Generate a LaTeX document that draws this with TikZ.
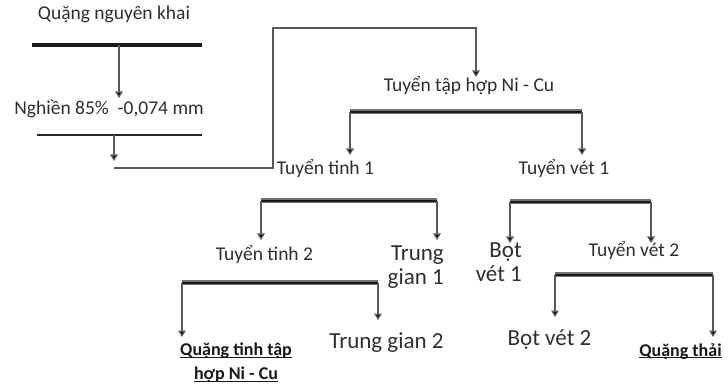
\documentclass[tikz,border=0pt]{standalone}
\usepackage{fontspec}
\setmainfont{Carlito}
\usetikzlibrary{arrows.meta}
% underline sitting just below the baseline, crossed by descenders
\newcommand\ulin[1]{\setbox0=\hbox{#1}\rlap{\rule[-2.4pt]{\wd0}{1.1pt}}\box0}
\begin{document}
\begin{tikzpicture}[x=1pt,y=-1pt,
  lbl/.style={inner sep=0pt, text=black!82, font=\fontsize{19.5}{23}\selectfont},
  big/.style={inner sep=0pt, text=black!82, font=\fontsize{23}{24}\selectfont},
  prod/.style={inner sep=0pt, text=black!90, font=\fontsize{18}{24}\selectfont\bfseries},
  flow/.style={draw=black!65, line width=1.3pt, -{Triangle[width=7.5pt,length=6.5pt,fill=black]}},
  bar/.style={draw=black!55, line width=5pt, postaction={draw=black!90, line width=2.4pt}},
  heavybar/.style={draw=black!90, line width=4pt},
  thinbar/.style={draw=black!85, line width=2pt}]
\useasboundingbox (0,0) rectangle (728,387);

% ---- labels ----
\node[lbl, anchor=base] (ore)   at (114,20)  {Quặng nguyên khai};
\node[lbl, anchor=base] (grind) at (109,115) {Nghiền 85\%\ \ -0,074 mm};
\node[lbl, anchor=base] (bulk)  at (469,92)  {Tuyển tập hợp Ni - Cu};
\node[lbl, anchor=base] (cl1)   at (325.5,175) {Tuyển tinh 1};
\node[lbl, anchor=base] (sc1)   at (564,175) {Tuyển vét 1};
\node[lbl, anchor=base] (cl2)   at (264.5,261) {Tuyển tinh 2};
\node[lbl, anchor=base] (sc2)   at (634,257) {Tuyển vét 2};
\node[big, anchor=north east, align=right] (mid1) at (444,246) {Trung\\gian 1};
\node[big, anchor=base] (mid2)  at (386.5,348) {Trung gian 2};
\node[big, anchor=north east, align=right] (fr1) at (522,243) {Bọt\\vét 1};
\node[big, anchor=base] (fr2)   at (549.5,345) {Bọt vét 2};
\node[prod, anchor=north, align=center] (conc) at (236,343) {\ulin{Quặng tinh tập}\\\ulin{hợp Ni - Cu}};
\node[prod, anchor=base] (tail) at (680.5,356) {\ulin{Quặng thải}};

% ---- bars (split points) ----
\coordinate (oreL) at (32,45);   \coordinate (oreR) at (202,45);
\coordinate (grL)  at (37,135);  \coordinate (grR)  at (202,135);
\coordinate (buL)  at (350,112); \coordinate (buR)  at (582,112);
\coordinate (c1L)  at (261,201); \coordinate (c1R)  at (437,201);
\coordinate (s1L)  at (510,202); \coordinate (s1R)  at (651,202);
\coordinate (c2L)  at (182,283); \coordinate (c2R)  at (378,283);
\coordinate (s2L)  at (555,275); \coordinate (s2R)  at (713,275);

\draw[heavybar] (oreL) -- (oreR);
\draw[thinbar]  (grL) -- (grR);
\draw[bar] (buL) -- (buR);
\draw[bar] (c1L) -- (c1R);
\draw[bar] (s1L) -- (s1R);
\draw[bar] (c2L) -- (c2R);
\draw[bar] (s2L) -- (s2R);

% ---- arrow tips ----
\coordinate (oreOut)  at (119,45);   \coordinate (grIn)   at (119,98);
\coordinate (grOut)   at (114,135);  \coordinate (grTip)  at (114,161);
\coordinate (feed)    at (114,168);  \coordinate (riser)  at (273,28);
\coordinate (buIn)    at (476,77);
\coordinate (c1In)    at (350,155);  \coordinate (s1In)   at (582,155);
\coordinate (c2In)    at (261,240);  \coordinate (m1In)   at (437,240);
\coordinate (f1In)    at (510,243);  \coordinate (s2In)   at (651,243);
\coordinate (coIn)    at (182,337);  \coordinate (m2In)   at (378,320);
\coordinate (f2In)    at (555,317);  \coordinate (taIn)   at (713,337);

% ---- flows ----
\draw[flow] (oreOut) -- (grIn);
\draw[flow] (grOut) -- (grTip);
\draw[flow] (feed) -| (riser) -| (buIn);
\draw[flow] (buL) -- (c1In);
\draw[flow] (buR) -- (s1In);
\draw[flow] (c1L) -- (c2In);
\draw[flow] (c1R) -- (m1In);
\draw[flow] (s1L) -- (f1In);
\draw[flow] (s1R) -- (s2In);
\draw[flow] (c2L) -- (coIn);
\draw[flow] (c2R) -- (m2In);
\draw[flow] (s2L) -- (f2In);
\draw[flow] (s2R) -- (taIn);
\end{tikzpicture}
\end{document}
